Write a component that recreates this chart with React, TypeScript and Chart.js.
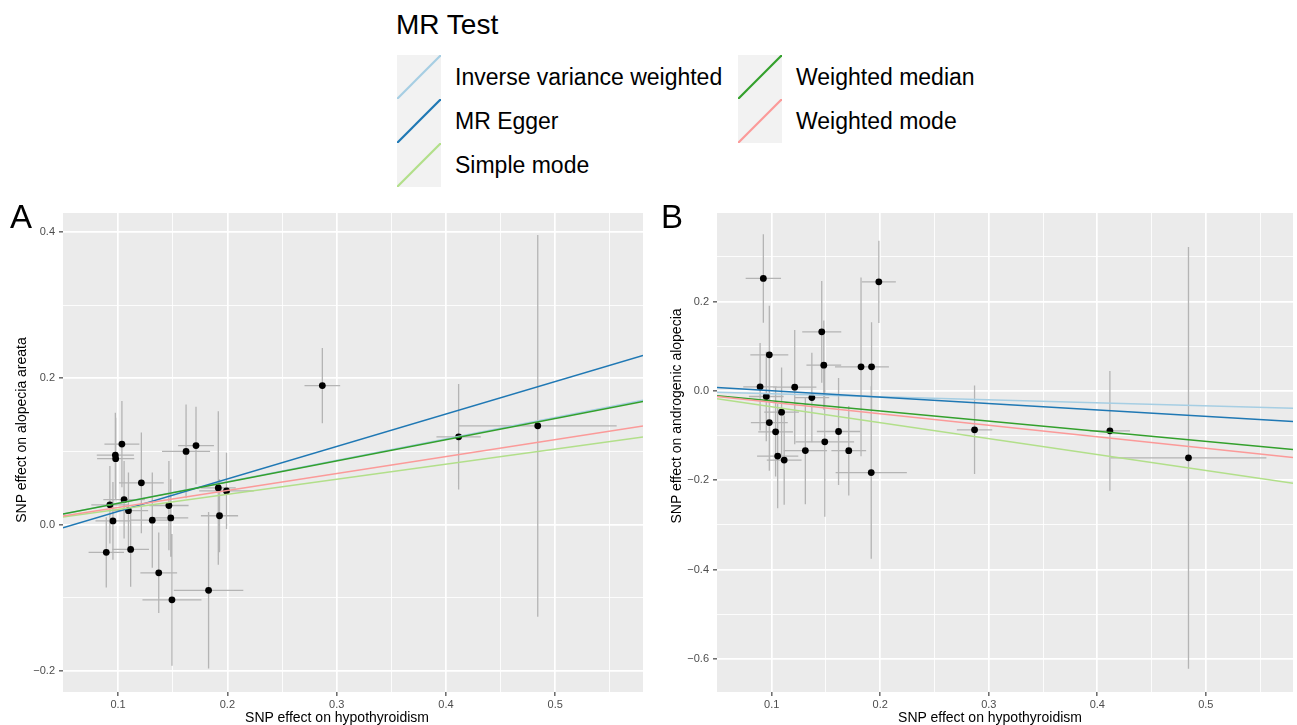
import React, { useEffect, useRef } from "react";
import { Chart, registerables } from "chart.js";

Chart.register(...registerables);

// ---------- Methods (lines) ----------
const methods = [
  "Inverse variance weighted",
  "MR Egger",
  "Simple mode",
  "Weighted median",
  "Weighted mode",
];
const methodColors = ["#A6CEE3", "#1F78B4", "#B2DF8A", "#33A02C", "#FB9A99"];

// ---------- Panel A: alopecia areata ----------
const xA = [0.0892, 0.0925, 0.0953, 0.0975, 0.0978, 0.1035, 0.1055, 0.1095, 0.1115, 0.1213, 0.1313, 0.1372, 0.1465, 0.1482, 0.1493, 0.1622, 0.1713, 0.1828, 0.1917, 0.1928, 0.1992, 0.2869, 0.4116, 0.484];
const xSeA = [0.0162, 0.017, 0.016, 0.017, 0.017, 0.016, 0.019, 0.018, 0.0168, 0.0205, 0.02, 0.0168, 0.018, 0.016, 0.027, 0.022, 0.0164, 0.0318, 0.016, 0.017, 0.025, 0.0163, 0.0203, 0.0722];
const yA = [-0.038, 0.027, 0.005, 0.095, 0.090, 0.110, 0.034, 0.019, -0.034, 0.057, 0.006, -0.066, 0.026, 0.009, -0.103, 0.100, 0.108, -0.090, 0.050, 0.012, 0.046, 0.190, 0.120, 0.135];
const ySeA = [0.048, 0.053, 0.053, 0.058, 0.056, 0.059, 0.053, 0.052, 0.051, 0.069, 0.065, 0.055, 0.061, 0.053, 0.090, 0.064, 0.053, 0.107, 0.105, 0.05, 0.052, 0.0515, 0.072, 0.261];
const interceptA = [0, -0.0266, 0, 0, 0];
const slopeA = [0.293, 0.444, 0.206, 0.290, 0.232];

// ---------- Panel B: androgenic alopecia ----------
const xB = [0.0893, 0.0923, 0.095, 0.0978, 0.0978, 0.1036, 0.1055, 0.1091, 0.1115, 0.1212, 0.131, 0.137, 0.1461, 0.148, 0.1489, 0.1616, 0.171, 0.1823, 0.1917, 0.192, 0.1987, 0.2869, 0.4116, 0.484];
const xSeB = [0.0155, 0.0163, 0.016, 0.0175, 0.017, 0.016, 0.019, 0.016, 0.016, 0.02, 0.02, 0.016, 0.018, 0.016, 0.027, 0.02, 0.016, 0.024, 0.0328, 0.016, 0.0157, 0.0163, 0.0185, 0.0718];
const yB = [0.009, 0.2515, -0.0127, 0.0806, -0.071, -0.0918, -0.146, -0.0478, -0.155, 0.0082, -0.1336, -0.015, 0.132, 0.0575, -0.114, -0.091, -0.134, 0.0537, -0.183, 0.0537, 0.244, -0.0873, -0.0896, -0.150];
const ySeB = [0.098, 0.099, 0.10, 0.11, 0.108, 0.10, 0.117, 0.10, 0.10, 0.128, 0.12, 0.10, 0.114, 0.10, 0.168, 0.12, 0.100, 0.20, 0.193, 0.10, 0.092, 0.099, 0.134, 0.472];
const interceptB = [0, 0.0146, 0, 0, 0];
const slopeB = [-0.067, -0.1437, -0.3565, -0.2266, -0.2575];

// ---------- Axes ----------
const xRange = [0.0496, 0.5803];
const xMajor = [0.1, 0.2, 0.3, 0.4, 0.5];
const xMajorLabels = ["0.1", "0.2", "0.3", "0.4", "0.5"];
const xMinor = [0.15, 0.25, 0.35, 0.45, 0.55];

const yRangeA = [-0.229, 0.426];
const yMajorA = [-0.2, 0, 0.2, 0.4];
const yMajorLabelsA = ["\u22120.2", "0.0", "0.2", "0.4"];
const yMinorA = [-0.1, 0.1, 0.3];

const yRangeB = [-0.674, 0.398];
const yMajorB = [-0.6, -0.4, -0.2, 0, 0.2];
const yMajorLabelsB = ["\u22120.6", "\u22120.4", "\u22120.2", "0.0", "0.2"];
const yMinorB = [-0.5, -0.3, -0.1, 0.1, 0.3];

const FONT = "'Liberation Sans', Arial, Helvetica, sans-serif";

const panelBg = {
  id: "panelBg",
  beforeDraw(chart: any) {
    const { ctx, chartArea } = chart;
    ctx.save();
    ctx.fillStyle = "#EBEBEB";
    ctx.fillRect(chartArea.left, chartArea.top, chartArea.right - chartArea.left, chartArea.bottom - chartArea.top);
    ctx.restore();
  },
};

function isIn(list: number[], v: number) {
  return list.some((m) => Math.abs(m - v) < 1e-9);
}

function axis(range: number[], major: number[], labels: string[], minor: number[], isX: boolean, size: number) {
  return {
    type: "linear",
    min: range[0],
    max: range[1],
    border: { display: false },
    afterBuildTicks: (scale: any) => {
      scale.ticks = [...major, ...minor].sort((a, b) => a - b).map((v) => ({ value: v }));
    },
    afterFit: (scale: any) => {
      if (isX) scale.height = size;
      else scale.width = size;
    },
    grid: {
      color: "#FFFFFF",
      lineWidth: (c: any) => (c.tick && isIn(major, c.tick.value) ? 1.7 : 0.85),
      drawTicks: true,
      tickLength: 4,
      tickWidth: 1.1,
      tickColor: (c: any) => (c.tick && isIn(major, c.tick.value) ? "#333333" : "rgba(0,0,0,0)"),
    },
    ticks: {
      autoSkip: false,
      maxRotation: 0,
      padding: isX ? 2 : 4,
      color: "#4D4D4D",
      font: { family: FONT, size: 11 },
      callback: (value: number) => {
        const i = major.findIndex((m) => Math.abs(m - value) < 1e-9);
        return i >= 0 ? labels[i] : "";
      },
    },
  };
}

function buildDatasets(xs: number[], xse: number[], ys: number[], yse: number[], a: number[], b: number[]) {
  const vBars: any[] = [];
  const hBars: any[] = [];
  xs.forEach((x, i) => {
    vBars.push({ x, y: ys[i] - yse[i] }, { x, y: ys[i] + yse[i] }, { x, y: null });
    hBars.push({ x: x - xse[i], y: ys[i] }, { x: x + xse[i], y: ys[i] }, { x: x, y: null });
  });
  const barStyle = {
    type: "line",
    borderColor: "#B4B4B4",
    borderWidth: 1.3,
    pointRadius: 0,
    pointHoverRadius: 0,
    spanGaps: false,
    fill: false,
    order: 40,
  };
  const ds: any[] = [
    { ...barStyle, label: "vbars", data: vBars },
    { ...barStyle, label: "hbars", data: hBars, order: 39 },
    {
      type: "scatter",
      label: "SNPs",
      data: xs.map((x, i) => ({ x, y: ys[i] })),
      pointRadius: 3.4,
      pointBackgroundColor: "#000000",
      pointBorderWidth: 0,
      order: 30,
    },
  ];
  methods.forEach((m, k) => {
    ds.push({
      type: "line",
      label: m,
      data: xRange.map((x) => ({ x, y: a[k] + b[k] * x })),
      borderColor: methodColors[k],
      borderWidth: 1.5,
      pointRadius: 0,
      pointHoverRadius: 0,
      fill: false,
      order: 10 - k,
    });
  });
  return ds;
}

function makeChart(canvas: HTMLCanvasElement, datasets: any[], yScale: any, rightPad: number) {
  return new Chart(canvas, {
    type: "scatter",
    data: { datasets },
    options: {
      animation: false,
      responsive: false,
      events: [],
      layout: { padding: { top: 13, right: rightPad, left: 0, bottom: 0 } },
      plugins: { legend: { display: false }, tooltip: { enabled: false } },
      scales: {
        x: axis(xRange, xMajor, xMajorLabels, xMinor, true, 33) as any,
        y: yScale,
      },
    } as any,
    plugins: [panelBg],
  } as any);
}

export default function App() {
  const refA = useRef<HTMLCanvasElement>(null);
  const refB = useRef<HTMLCanvasElement>(null);

  useEffect(() => {
    const chartA = makeChart(
      refA.current!,
      buildDatasets(xA, xSeA, yA, ySeA, interceptA, slopeA),
      axis(yRangeA, yMajorA, yMajorLabelsA, yMinorA, false, 63),
      7
    );
    const chartB = makeChart(
      refB.current!,
      buildDatasets(xB, xSeB, yB, ySeB, interceptB, slopeB),
      axis(yRangeB, yMajorB, yMajorLabelsB, yMinorB, false, 67),
      0
    );
    return () => {
      chartA.destroy();
      chartB.destroy();
    };
  }, []);

  const titleBase: React.CSSProperties = {
    position: "absolute",
    fontSize: 14,
    lineHeight: "18px",
    whiteSpace: "nowrap",
    color: "#000",
  };

  return (
    <div
      style={{
        position: "absolute",
        left: 0,
        top: 0,
        width: 1297,
        height: 725,
        background: "#FFFFFF",
        overflow: "hidden",
        fontFamily: FONT,
        color: "#000",
      }}
    >
      <canvas ref={refA} width={650} height={525} style={{ position: "absolute", left: 0, top: 200 }} />
      <canvas ref={refB} width={647} height={525} style={{ position: "absolute", left: 650, top: 200 }} />

      {/* Legend */}
      <div style={{ position: "absolute", left: 396, top: 8, fontSize: 28, lineHeight: "34px", whiteSpace: "nowrap" }}>
        MR Test
      </div>
      {methods.map((m, k) => {
        const col = Math.floor(k / 3);
        const row = k % 3;
        const left = col === 0 ? 397 : 738;
        const top = 55 + row * 44;
        return (
          <div key={m} style={{ position: "absolute", left, top, height: 44, display: "flex", alignItems: "center" }}>
            <svg width={44} height={44} style={{ display: "block" }}>
              <rect x={0} y={0} width={44} height={44} fill="#F2F2F2" />
              <line x1={0} y1={44} x2={44} y2={0} stroke={methodColors[k]} strokeWidth={2.2} />
            </svg>
            <span style={{ marginLeft: 14, fontSize: 23, lineHeight: "44px", whiteSpace: "nowrap" }}>{m}</span>
          </div>
        );
      })}

      {/* Panel letters */}
      <div style={{ position: "absolute", left: 10, top: 197, fontSize: 33, lineHeight: "40px" }}>A</div>
      <div style={{ position: "absolute", left: 661, top: 197, fontSize: 33, lineHeight: "40px" }}>B</div>

      {/* Axis titles */}
      <div style={{ ...titleBase, left: 337, top: 708, transform: "translateX(-50%)" }}>SNP effect on hypothyroidism</div>
      <div style={{ ...titleBase, left: 990, top: 708, transform: "translateX(-50%)" }}>SNP effect on hypothyroidism</div>
      <div style={{ ...titleBase, left: 21, top: 430, transform: "translate(-50%, -50%) rotate(-90deg)" }}>
        SNP effect on alopecia areata
      </div>
      <div style={{ ...titleBase, left: 676, top: 416, transform: "translate(-50%, -50%) rotate(-90deg)" }}>
        SNP effect on androgenic alopecia
      </div>
    </div>
  );
}
